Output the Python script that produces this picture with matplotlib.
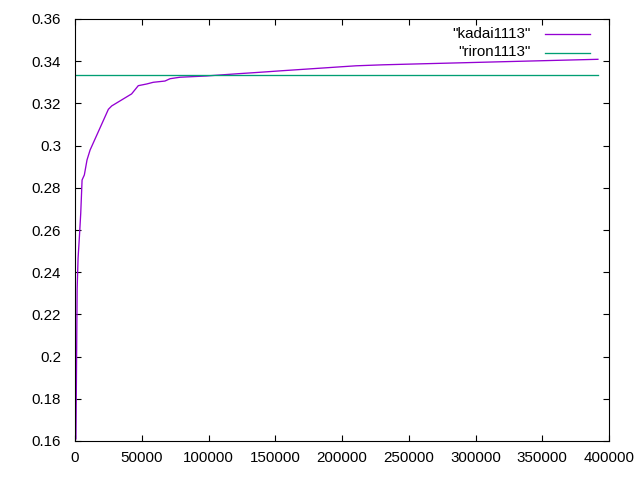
import matplotlib
matplotlib.use("Agg")
import matplotlib.pyplot as plt
from matplotlib.lines import Line2D

# ---- data ----
kadai_x = [700, 1600, 2300, 3300, 4300, 5300, 7000, 9000, 11300, 25000, 27500,
           42400, 47400, 53700, 58600, 67400, 71200, 78600, 88600, 98600, 104900,
           121300, 132600, 143800, 154300, 165500, 176800, 188000, 199200, 210500,
           230700, 259900, 289100, 318300, 347500, 376700, 391700]
kadai_y = [0.161, 0.232, 0.2466, 0.2568, 0.268, 0.2837, 0.2861, 0.2932, 0.2979, 0.3172, 0.3188,
           0.3245, 0.3284, 0.3292, 0.3300, 0.3306, 0.3317, 0.3324, 0.3327, 0.3330, 0.3333,
           0.33403, 0.33450, 0.33498, 0.33545, 0.33592, 0.33640, 0.33687, 0.33735, 0.33782,
           0.33829, 0.33877, 0.33924, 0.33972, 0.34019, 0.34066, 0.34090]
riron_x = [0, 391700]
riron_y = [0.33333, 0.33333]

labels = ['"kadai1113"', '"riron1113"']
colors = ["#9400D3", "#009E73"]

xticks = [0, 50000, 100000, 150000, 200000, 250000, 300000, 350000, 400000]
yticks = [0.16, 0.18, 0.2, 0.22, 0.24, 0.26, 0.28, 0.3, 0.32, 0.34, 0.36]
ytick_labels = ["0.16", "0.18", "0.2", "0.22", "0.24", "0.26", "0.28", "0.3", "0.32", "0.34", "0.36"]

FS = 10.9
LW = 0.95
plt.rcParams["font.family"] = ["Liberation Sans", "DejaVu Sans"]
plt.rcParams["font.size"] = FS

fig = plt.figure(figsize=(6.4, 4.8), dpi=100)
ax = fig.add_axes([75/640, 1-441/480, 534/640, 422/480])

ax.plot(kadai_x, kadai_y, color=colors[0], lw=LW)
ax.plot(riron_x, riron_y, color=colors[1], lw=LW)

ax.set_xlim(0, 400000)
ax.set_ylim(0.16, 0.36)
ax.set_xticks(xticks)
ax.set_xticklabels([str(t) for t in xticks])
ax.set_yticks(yticks)
ax.set_yticklabels(ytick_labels)
ax.tick_params(direction="in", length=4, width=0.8, top=True, right=True,
               colors="black", labelsize=FS)
ax.tick_params(axis="y", pad=10)
ax.tick_params(axis="x", pad=7.5)
for s in ax.spines.values():
    s.set_linewidth(0.8)

# legend (gnuplot style: right-aligned text, line sample to the right)
ys = [(441-33.5)/422, (441-52.5)/422]
for lab, col, yy in zip(labels, colors, ys):
    ax.text((531-75)/534, yy, lab, transform=ax.transAxes, ha="right", va="center", fontsize=FS)
    ax.add_line(Line2D([(545-75)/534, (590-75)/534], [yy, yy], transform=ax.transAxes,
                       color=col, lw=LW))

fig.savefig("out.png", dpi=100)
